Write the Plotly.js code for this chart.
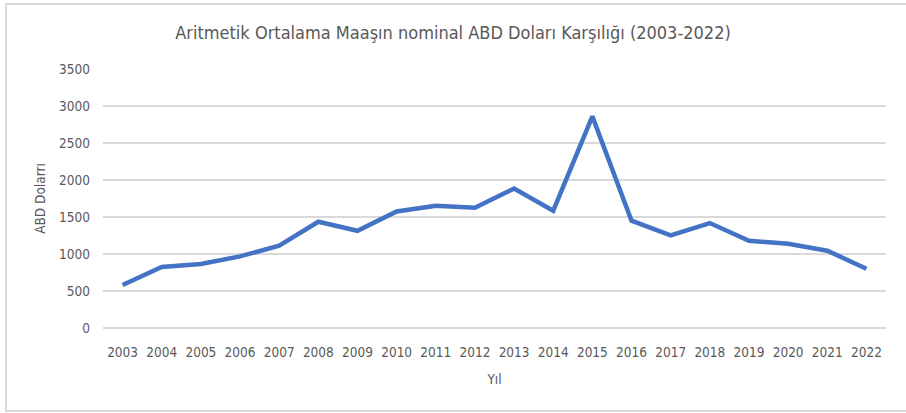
<!DOCTYPE html>
<html><head><meta charset="utf-8">
<script src="https://cdn.plot.ly/plotly-3.0.1.min.js"></script>
<style>
html,body{margin:0;padding:0;background:#fff;}
#wrap{position:relative;width:906px;height:413px;overflow:hidden;}
#chart{position:absolute;left:0;top:0;width:906px;height:413px;}
#frame{position:absolute;left:5px;top:3px;width:910px;height:405px;border:2px solid #d9d9d9;box-sizing:content-box;pointer-events:none;}
</style></head>
<body><div id="wrap"><div id="chart"></div><div id="frame"></div></div>
<script>
const years = ["2003","2004","2005","2006","2007","2008","2009","2010","2011","2012","2013","2014","2015","2016","2017","2018","2019","2020","2021","2022"];
const salaryUSD = [581,824,865,968,1112,1436,1314,1575,1652,1625,1886,1585,2860,1450,1251,1418,1179,1139,1044,801];
const yTicks = [0,500,1000,1500,2000,2500,3000,3500];

const fontFam = '"Liberation Sans Narrow", "DejaVu Sans Condensed", "Open Sans", sans-serif';
Plotly.newPlot('chart', [{
  x: years, y: salaryUSD, type: 'scatter', mode: 'lines',
  line: {color: '#4472C4', width: 4.5, shape: 'linear'},
  hoverinfo: 'skip'
}], {
  width: 906, height: 413,
  margin: {l: 103, r: 20, t: 69, b: 85},
  paper_bgcolor: '#fff', plot_bgcolor: '#fff',
  showlegend: false,
  title: {text: 'Aritmetik Ortalama Maaşın nominal ABD Doları Karşılığı (2003-2022)',
          font: {family: fontFam, size: 18, color: '#595959'}, x: 0.5, xanchor: 'center', y: 0.92, yanchor: 'middle'},
  xaxis: {type: 'category', range: [-0.5, years.length - 0.5], showgrid: false, zeroline: false, showline: false, ticks: '',
          tickfont: {family: fontFam, size: 13.5, color: '#595959'}, ticklabelstandoff: 14,
          title: {text: 'Yıl', font: {family: fontFam, size: 13.5, color: '#595959'}, standoff: 16}},
  yaxis: {range: [0, 3500], tickvals: yTicks, ticktext: yTicks.map(String), showgrid: true,
          gridcolor: '#d9d9d9', gridwidth: 1.3, zeroline: true, zerolinecolor: '#d9d9d9', zerolinewidth: 1.3,
          showline: false, ticks: '',
          tickfont: {family: fontFam, size: 13.5, color: '#595959'}, ticklabelstandoff: 12,
          title: {text: 'ABD Dolarrı', font: {family: fontFam, size: 13.5, color: '#595959'}, standoff: 10}}
}, {displayModeBar: false, staticPlot: true});
</script></body></html>
